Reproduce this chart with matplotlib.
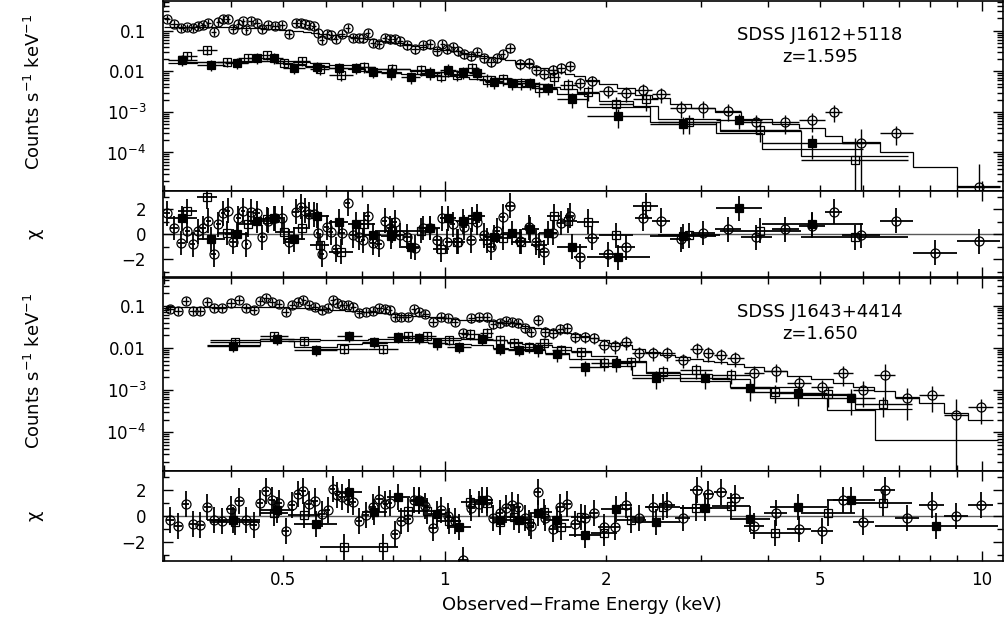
import numpy as np
import matplotlib.pyplot as plt
from matplotlib.ticker import FixedLocator, FixedFormatter, NullFormatter

plt.rcParams['font.family'] = ['DejaVu Sans']

# ---- SDSS J1612+5118 ----
# open circles (pn)
s1_pn_edges = [0.300, 0.308, 0.318, 0.328, 0.3355, 0.343, 0.3505, 0.3585, 0.367, 0.375, 0.3825,
               0.390, 0.3985, 0.408, 0.4165, 0.424, 0.4305, 0.440, 0.4525, 0.462, 0.4745, 0.491,
               0.5045, 0.520, 0.536, 0.5455, 0.5525, 0.5645, 0.5755, 0.584, 0.5965, 0.6095, 0.620,
               0.6335, 0.6515, 0.667, 0.6845, 0.6995, 0.7115, 0.725, 0.744, 0.765, 0.7815, 0.7985,
               0.816, 0.8375, 0.8645, 0.8945, 0.924, 0.952, 0.9785, 1.000, 1.022, 1.046, 1.070,
               1.099, 1.137, 1.164, 1.199, 1.239, 1.268, 1.296, 1.35, 1.412, 1.458, 1.502, 1.555,
               1.62, 1.677, 1.74, 1.825, 1.94, 2.09, 2.26, 2.43, 2.63, 2.88, 3.19, 3.56, 4.06, 4.57,
               5.1, 5.5, 6.45, 7.45, 9.0, 10.8]
s1_pn_rate = [0.198, 0.149, 0.119, 0.125, 0.119, 0.133, 0.14, 0.158, 0.0945, 0.167, 0.198, 0.198,
              0.112, 0.149, 0.17, 0.106, 0.177, 0.158, 0.112, 0.14, 0.133, 0.14, 0.0843, 0.158,
              0.158, 0.149, 0.141, 0.13, 0.09, 0.060, 0.0843, 0.08, 0.0634, 0.0843, 0.119, 0.0672,
              0.0672, 0.065, 0.0893, 0.0506, 0.0478, 0.0672, 0.062, 0.0634, 0.055, 0.044, 0.0359,
              0.0451, 0.0478, 0.0321, 0.0478, 0.0359, 0.040, 0.0321,
              0.027, 0.0241, 0.0303, 0.0215, 0.0172, 0.0215, 0.027, 0.038, 0.0153, 0.0162, 0.0109,
              0.0087, 0.0109, 0.0122, 0.0137, 0.0052, 0.0058, 0.0033, 0.00295, 0.0035, 0.00278,
              0.00126, 0.00126, 0.00106, 5.7e-4, 5.7e-4, 6.4e-4, 1.0e-3, 1.72e-4, 3.0e-4, np.nan,
              1.4e-5]
s1_pn_err = [0.2, 0.2, 0.2, 0.2, 0.2, 0.2, 0.2, 0.2, 0.2, 0.2, 0.2, 0.2, 0.2, 0.2, 0.2, 0.2, 0.2, 0.2,
             0.22, 0.22, 0.22, 0.22, 0.22, 0.22, 0.22, 0.22, 0.22, 0.22, 0.22, 0.22, 0.22, 0.22,
             0.22, 0.22, 0.22, 0.22, 0.22, 0.22, 0.22, 0.22, 0.22, 0.25, 0.25, 0.25, 0.25, 0.25,
             0.25, 0.25, 0.25, 0.25, 0.25, 0.25, 0.25, 0.25,
             0.25, 0.25, 0.25, 0.25, 0.25, 0.25, 0.25, 0.25, 0.3, 0.3, 0.3, 0.3, 0.3, 0.3, 0.3,
             0.35, 0.35, 0.35, 0.4, 0.4, 0.4, 0.45, 0.45, 0.45, 0.5, 0.5, 0.5, 0.45, 1.2, 0.5,
             np.nan, 2.7]
s1_pn_model = [0.125, 0.125, 0.125, 0.125, 0.125, 0.125, 0.125, 0.124, 0.123, 0.122, 0.121, 0.12,
               0.12, 0.119, 0.118, 0.117, 0.116, 0.115, 0.114, 0.112, 0.110, 0.105, 0.103, 0.099,
               0.097, 0.095, 0.093, 0.090, 0.089, 0.085, 0.082, 0.080, 0.078, 0.075, 0.072, 0.070,
               0.067, 0.065, 0.063, 0.061, 0.057, 0.055, 0.053, 0.051, 0.049, 0.046, 0.043, 0.040,
               0.038, 0.036, 0.034, 0.033, 0.032, 0.031,
               0.029, 0.027, 0.025, 0.024, 0.022, 0.021, 0.020, 0.019, 0.016, 0.015, 0.013, 0.012,
               0.011, 0.0098, 0.0088, 0.0075, 0.0062, 0.0048, 0.0039, 0.0026, 0.0022, 0.00158,
               0.00125, 0.00100, 6.7e-4, 5.0e-4, 4.0e-4, 2.5e-4, 1.8e-4, 1.03e-4, 4.4e-5, 1.5e-5]
s1_pn_chi = [1.7, 0.5, -0.7, 0.3, -0.8, 0.25, 0.5, 1.1, -1.6, 0.8, 1.7, 1.9, -0.6, 1.3, 1.9, -0.8,
             1.8, 1.7, -0.25, 1.1, 1.3, 1.3, -0.6, 1.8, 2.2, 1.9, 1.6, 1.6, 0.1, -1.6, 0.55, 0.15,
             -1.2, 0.1, 2.5, -0.1, -0.25, -0.5, 1.45, -0.7, -0.8, 1.1, 0.5, 0.95, -0.1, -0.2, -1.1,
             0.5, 0.5, -0.5, 1.3, -0.6, 0.8, -0.6,
             0.56, -0.5, 0.97, -0.1, -1.05, 0.3, 1.4, 2.3, -0.55, 0.56, -0.65, -1.45, 0.1, 0.9,
             1.5, -1.8, -0.3, -1.6, -1.05, 1.3, 1.1, -0.4, 0.1, 0.4, -0.25, 0.4, 0.7, 1.8, -0.1,
             1.1, -1.5, -0.55]

# open squares (MOS1)
s1_m1_edges = [0.318, 0.345, 0.376, 0.412, 0.450, 0.482, 0.522, 0.562, 0.610, 0.674, 0.74, 0.86,
               0.95, 1.02, 1.09, 1.16, 1.24, 1.33, 1.45, 1.55, 1.64, 1.76, 1.94, 2.24, 2.50, 3.25,
               4.6, 7.3]
s1_m1_rate = [0.0241, 0.034, 0.0172, 0.0215, 0.0255, 0.0162, 0.0182, 0.0115, 0.0082, 0.0129, 0.0115,
              0.0109, 0.0077, 0.0082, 0.0122, 0.0062, 0.0065, 0.0052, 0.0039, 0.0073, 0.0046, 0.0031,
              0.00158, 0.0021, 5.7e-4, 3.6e-4, 6.5e-5]
s1_m1_err = [0.25, 0.25, 0.25, 0.25, 0.25, 0.25, 0.25, 0.3, 0.3, 0.3, 0.3, 0.3, 0.3, 0.3, 0.3, 0.35,
             0.35, 0.35, 0.4, 0.4, 0.4, 0.4, 0.5, 0.5, 0.5, 0.5, 2.5]
s1_m1_model = [0.0165, 0.0165, 0.017, 0.0175, 0.018, 0.0178, 0.0172, 0.016, 0.0145, 0.013, 0.0115,
               0.0102, 0.0095, 0.0088, 0.0082, 0.0075, 0.0068, 0.0058, 0.0049, 0.0042, 0.0036,
               0.0029, 0.0019, 0.0014, 6.5e-4, 3.3e-4, 8e-5]
s1_m1_chi = [1.85, 3.0, 0.1, 0.8, 1.2, 0.2, 0.5, -0.9, -1.4, 0.8, 0.3, 0.3, -1.2, -0.6, 1.2, -0.5,
             -0.3, -0.6, -0.9, 1.45, 1.1, 1.0, -0.1, 2.3, -0.1, 0.3, -0.25]

# filled squares (MOS2)
s1_m2_edges = [0.305, 0.345, 0.39, 0.43, 0.463, 0.50, 0.55, 0.61, 0.66, 0.71, 0.76, 0.83, 0.90,
               0.98, 1.05, 1.11, 1.19, 1.285, 1.39, 1.495, 1.62, 1.84, 2.41, 3.2, 3.9, 6.0]
s1_m2_rate = [0.0192, 0.0145, 0.0162, 0.0215, 0.0215, 0.0122, 0.0129, 0.0122, 0.012, 0.0097, 0.0092,
              0.0073, 0.0092, 0.0109, 0.0097, 0.0092, 0.0055, 0.0052, 0.0052, 0.0039, 0.0021, 8e-4,
              5.1e-4, 6.4e-4, 1.72e-4]
s1_m2_err = [0.3, 0.3, 0.3, 0.3, 0.3, 0.3, 0.3, 0.3, 0.3, 0.3, 0.35, 0.35, 0.35, 0.35, 0.35, 0.35,
             0.35, 0.35, 0.35, 0.35, 0.4, 0.5, 0.45, 0.4, 0.6]
s1_m2_model = [0.016, 0.0165, 0.017, 0.0175, 0.0175, 0.0155, 0.0135, 0.012, 0.0112, 0.0102, 0.0095,
               0.0088, 0.0082, 0.0077, 0.0072, 0.0066, 0.0058, 0.0050, 0.0043, 0.0036, 0.0028,
               0.0013, 5.5e-4, 3.0e-4, 1.2e-4]
s1_m2_chi = [1.3, -0.4, 0.0, 1.1, 1.3, -0.4, 1.5, 1.0, 0.8, -0.1, -0.15, -1.0, 0.5, 1.3, 1.05, 1.45,
             -0.25, 0.1, 0.4, 0.1, -1.0, -1.85, -0.15, 2.1, 0.8]

# ---- SDSS J1643+4414 ----
s2_pn_edges = [0.303, 0.3125, 0.324, 0.3345, 0.345, 0.3565, 0.3665, 0.378, 0.392, 0.4065, 0.4205,
               0.434, 0.4475, 0.459, 0.471, 0.4835, 0.497, 0.5135, 0.527, 0.539, 0.551, 0.5645,
               0.5815, 0.598, 0.612, 0.624, 0.636, 0.6515, 0.667, 0.683, 0.702, 0.723, 0.745,
               0.7665, 0.783, 0.7985, 0.8175, 0.8405, 0.8645, 0.885, 0.906, 0.934, 0.9685, 1.000,
               1.028, 1.058,
               1.103, 1.14, 1.177, 1.215, 1.247, 1.285, 1.319, 1.35, 1.388, 1.428, 1.468, 1.512,
               1.562, 1.616, 1.665, 1.716, 1.784, 1.858, 1.931, 2.02, 2.123, 2.23, 2.364, 2.515,
               2.683, 2.867, 3.024, 3.17, 3.36, 3.6, 3.93, 4.34, 4.81, 5.28, 5.75, 6.3, 6.9, 7.65,
               8.52, 9.42, 10.5]
s2_pn_rate = [0.0848, 0.076, 0.1315, 0.076, 0.076, 0.1245, 0.0896, 0.0896, 0.118, 0.139, 0.0896,
              0.0803, 0.1315, 0.155, 0.1245, 0.1116, 0.072, 0.1056, 0.1245, 0.139, 0.1056, 0.0947,
              0.0803, 0.0896, 0.139, 0.118, 0.1056, 0.1056, 0.0947, 0.0681, 0.072, 0.076, 0.0896,
              0.0848, 0.0803, 0.0547, 0.0547, 0.0547, 0.0848, 0.072, 0.0645, 0.0416, 0.0547,
              0.0518, 0.0416,
              0.0228, 0.0518, 0.0547, 0.0547, 0.0373, 0.0394, 0.0439, 0.042, 0.0394, 0.0299, 0.024,
              0.0464, 0.024, 0.0228, 0.0283, 0.0299, 0.0183, 0.0183, 0.0173, 0.0118, 0.0112, 0.0139,
              0.0076, 0.0076, 0.0076, 0.0052, 0.0095, 0.0076, 0.0068, 0.0058, 0.00254, 0.00283,
              0.00147, 0.00118, 0.00254, 0.0010, 0.00228, 6.5e-4, 7.6e-4, 2.5e-4, 3.9e-4]
s2_pn_err = [0.2, 0.2, 0.2, 0.2, 0.2, 0.2, 0.2, 0.2, 0.2, 0.2, 0.2, 0.2, 0.2, 0.2, 0.2, 0.2, 0.2, 0.2,
             0.2, 0.2, 0.2, 0.2, 0.2, 0.2, 0.2, 0.2, 0.2, 0.2, 0.2, 0.2, 0.22, 0.22, 0.22, 0.22,
             0.22, 0.22, 0.22, 0.22, 0.22, 0.22, 0.22, 0.22, 0.22, 0.22, 0.22,
             0.25, 0.25, 0.25, 0.25, 0.25, 0.25, 0.25, 0.25, 0.25, 0.25, 0.25, 0.3, 0.3, 0.3, 0.3,
             0.3, 0.3, 0.3, 0.3, 0.35, 0.35, 0.35, 0.35, 0.35, 0.35, 0.35, 0.4, 0.4, 0.4, 0.4,
             0.45, 0.45, 0.45, 0.45, 0.5, 0.6, 0.8, 0.7, 0.6, 1.5, 0.6]
s2_pn_model = [0.093, 0.094, 0.095, 0.095, 0.095, 0.096, 0.096, 0.096, 0.096, 0.096, 0.095, 0.095,
               0.095, 0.094, 0.094, 0.093, 0.092, 0.091, 0.090, 0.089, 0.088, 0.086, 0.084, 0.082,
               0.080, 0.079, 0.078, 0.077, 0.076, 0.074, 0.072, 0.070, 0.068, 0.066, 0.065, 0.064,
               0.062, 0.060, 0.058, 0.057, 0.056, 0.054, 0.052, 0.050, 0.049,
               0.047, 0.047, 0.046, 0.045, 0.043, 0.041, 0.040, 0.038, 0.036, 0.034, 0.032, 0.030,
               0.028, 0.026, 0.024, 0.023, 0.021, 0.019, 0.017, 0.015, 0.013, 0.0115, 0.0095,
               0.0080, 0.0068, 0.0060, 0.0054, 0.0050, 0.0046, 0.0041, 0.0035, 0.0028, 0.0022,
               0.0018, 0.0015, 0.0012, 0.00095, 0.00070, 0.00048, 0.00028, 0.00020]
s2_pn_chi = [-0.31, -0.78, 0.93, -0.62, -0.70, 0.70, -0.31, -0.39, 0.54, 1.16, -0.31, -0.70, 1.01,
             1.94, 1.24, 1.01, -1.16, 0.85, 1.71, 1.94, 0.93, 1.16, 0.16, 0.47, 2.09, 1.63, 1.47,
             1.24, 1.09, -0.39, 0.08, 0.70, 1.32, 0.93, 1.01, -1.40, -0.39, -0.23, 1.24, 1.24, 0.78,
             -0.93, 0.47, 0.0, -0.39,
             -3.41, 0.62, 0.93, 1.24, -0.16, 0.23, 0.62, 0.85, 0.70, -0.16, -0.78, 1.86, -0.16,
             -1.0, 0.70, 0.93, -0.62, -0.16, 0.23, -0.85, -0.85, 0.85, -0.16, 0.70, 0.85, -0.16,
             2.0, 1.7, 1.86, 1.4, -0.78, 0.23, -1.0, -1.16, 1.24, -0.47, 2.0, -0.16, 0.85, 0.0, 0.85]

s2_m1_edges = [0.365, 0.452, 0.51, 0.585, 0.719, 0.82, 0.89, 0.965, 1.07, 1.165, 1.23, 1.305, 1.39,
               1.475, 1.585, 1.715, 1.87, 2.09, 2.37, 2.74, 3.15, 3.7, 4.6, 5.8, 7.4]
s2_m1_rate = [0.0139, 0.0193, 0.0147, 0.0095, 0.0095, 0.0193, 0.0193, 0.0155, 0.0216, 0.0228, 0.0155,
              0.0131, 0.0106, 0.0131, 0.009, 0.008, 0.0044, 0.0046, 0.0027, 0.003, 0.00228, 8.95e-4,
              8.0e-4, 4.6e-4]
s2_m1_err = [0.25, 0.25, 0.25, 0.25, 0.25, 0.25, 0.25, 0.25, 0.3, 0.3, 0.3, 0.3, 0.3, 0.3, 0.3, 0.35,
             0.35, 0.35, 0.4, 0.4, 0.4, 0.45, 0.5, 0.5]
s2_m1_model = [0.0150, 0.0165, 0.0160, 0.0155, 0.0160, 0.0170, 0.0175, 0.0170, 0.0165, 0.0158,
               0.0150, 0.0135, 0.0125, 0.0115, 0.0105, 0.0085, 0.0065, 0.0050, 0.0026, 0.0024,
               0.0018, 0.0012, 7.5e-4, 3.5e-4]
s2_m1_chi = [-0.47, 0.23, 0.08, -2.4, -2.4, 0.39, 0.39, -0.39, 1.09, 1.0, -0.47, -0.08, -0.54, 0.3,
             -0.85, -0.08, -1.32, -0.3, 0.70, 0.62, 0.78, -1.32, 0.23, 1.0]

s2_m2_edges = [0.36, 0.452, 0.525, 0.63, 0.70, 0.78, 0.86, 0.93, 1.01, 1.12, 1.23, 1.31, 1.44, 1.54,
               1.70, 1.95, 2.23, 2.74, 3.39, 4.03, 5.15, 6.33, 10.7]
s2_m2_rate = [0.0112, 0.0164, 0.009, 0.0193, 0.0139, 0.0183, 0.0173, 0.0131, 0.0106, 0.0164, 0.0095,
              0.009, 0.0095, 0.0072, 0.00353, 0.0044, 0.00193, 0.00193, 0.00112, 8.5e-4, 6.5e-4,
              np.nan]
s2_m2_err = [0.3, 0.3, 0.3, 0.3, 0.3, 0.3, 0.3, 0.3, 0.3, 0.3, 0.3, 0.3, 0.35, 0.35, 0.4, 0.4, 0.45,
             0.45, 0.5, 0.5, 0.6, np.nan]
s2_m2_model = [0.0118, 0.0148, 0.0105, 0.0125, 0.013, 0.0135, 0.0135, 0.013, 0.0125, 0.012, 0.0102,
               0.0096, 0.009, 0.0076, 0.0055, 0.0038, 0.0023, 0.0016, 0.0012, 6.5e-4, 3.4e-4, 6.4e-5]
s2_m2_chi = [-0.31, 0.47, -0.62, 1.86, 0.31, 1.47, 1.16, 0.16, -0.85, 1.24, -0.31, -0.31, 0.23, -0.3,
             -1.47, 0.54, -0.47, 0.62, -0.23, 0.70, 1.24, -0.78]

names = ['SDSS J1612+5118\nz=1.595', 'SDSS J1643+4414\nz=1.650']

circle = dict(marker='o', ms=6.5, mfc='none', mec='k', mew=0.9)
opensq = dict(marker='s', ms=5.5, mfc='none', mec='k', mew=0.9)
fullsq = dict(marker='s', ms=6.2, mfc='k', mec='k', mew=0.9)


def draw(ax_s, ax_r, edges, rate, err, model, chi, mk):
    edges = np.array(edges)
    lo, hi = edges[:-1], edges[1:]
    mid = np.sqrt(lo * hi)
    xerr = [mid - lo, hi - mid]
    rate = np.array(rate, dtype=float)
    sig = rate * np.array(err, dtype=float)
    low = np.minimum(sig, rate * 0.9999)
    ax_s.stairs(model, edges, baseline=None, color='k', lw=0.9)
    ax_s.errorbar(mid, rate, xerr=xerr, yerr=[low, sig], fmt='none', ecolor='k', elinewidth=1.0)
    ax_s.plot(mid, rate, ls='none', **mk)
    ax_r.errorbar(mid, chi, xerr=xerr, yerr=1.0, fmt='none', ecolor='k', elinewidth=1.3)
    ax_r.plot(mid, chi, ls='none', **mk)


fig = plt.figure(figsize=(10.05, 6.23), dpi=100)
L, W = 0.162, 0.836
ax1 = fig.add_axes([L, 0.694, W, 0.305])
ax2 = fig.add_axes([L, 0.556, W, 0.138])
ax3 = fig.add_axes([L, 0.244, W, 0.310])
ax4 = fig.add_axes([L, 0.0995, W, 0.1445])

draw(ax1, ax2, s1_pn_edges, s1_pn_rate, s1_pn_err, s1_pn_model, s1_pn_chi, circle)
draw(ax1, ax2, s1_m1_edges, s1_m1_rate, s1_m1_err, s1_m1_model, s1_m1_chi, opensq)
draw(ax1, ax2, s1_m2_edges, s1_m2_rate, s1_m2_err, s1_m2_model, s1_m2_chi, fullsq)
draw(ax3, ax4, s2_pn_edges, s2_pn_rate, s2_pn_err, s2_pn_model, s2_pn_chi, circle)
draw(ax3, ax4, s2_m1_edges, s2_m1_rate, s2_m1_err, s2_m1_model, s2_m1_chi, opensq)
draw(ax3, ax4, s2_m2_edges, s2_m2_rate, s2_m2_err, s2_m2_model, s2_m2_chi, fullsq)

ax1.set_ylim(1.15e-5, 0.55)
ax3.set_ylim(1.2e-5, 0.46)
ax2.set_ylim(-3.4, 3.5)
ax4.set_ylim(-3.5, 3.5)

xminor = [0.3, 0.4, 0.5, 0.6, 0.7, 0.8, 0.9, 2, 3, 4, 5, 6, 7, 8, 9]
yminor = [m * 10.0 ** p for p in range(-5, 0) for m in range(2, 10)]

for ax in (ax1, ax2, ax3, ax4):
    ax.set_xscale('log')
    ax.set_xlim(0.2985, 10.95)
    ax.xaxis.set_major_locator(FixedLocator([1, 10]))
    ax.xaxis.set_minor_locator(FixedLocator(xminor))
    ax.tick_params(which='both', direction='in', top=True, right=True, width=1.0,
                   labelsize=12, pad=12)
    ax.tick_params(which='major', length=7)
    ax.tick_params(which='minor', length=4)
    ax.tick_params(axis='x', which='both', labelbottom=False)
    for s in ax.spines.values():
        s.set_linewidth(1.2)

for ax in (ax1, ax3):
    ax.set_yscale('log')
    ax.yaxis.set_major_locator(FixedLocator([1e-4, 1e-3, 1e-2, 1e-1]))
    ax.yaxis.set_major_formatter(FixedFormatter(['$10^{-4}$', '$10^{-3}$', '0.01', '0.1']))
    ax.yaxis.set_minor_locator(FixedLocator(yminor))
    ax.yaxis.set_minor_formatter(NullFormatter())
    ax.set_ylabel('Counts s$^{-1}$ keV$^{-1}$', fontsize=13)
    ax.yaxis.set_label_coords(-0.142, 0.52)

for ax in (ax2, ax4):
    ax.axhline(0, color='0.35', lw=1.0, zorder=0)
    ax.yaxis.set_major_locator(FixedLocator([-2, 0, 2]))
    ax.yaxis.set_minor_locator(FixedLocator([-3, -1, 1, 3]))
    ax.set_ylabel('χ', fontsize=13)
    ax.yaxis.set_label_coords(-0.142, 0.5)

ax4.tick_params(axis='x', which='both', labelbottom=True, pad=7)
ax4.xaxis.set_major_formatter(FixedFormatter(['1', '10']))
ax4.xaxis.set_minor_formatter(FixedFormatter(['', '', '0.5', '', '', '', '', '2', '', '', '5',
                                              '', '', '', '']))

ax1.text(0.782, 0.76, names[0], transform=ax1.transAxes, ha='center', va='center',
         fontsize=13, linespacing=1.3)
ax3.text(0.782, 0.765, names[1], transform=ax3.transAxes, ha='center', va='center',
         fontsize=13, linespacing=1.3)

fig.text(0.579, 0.029, 'Observed−Frame Energy (keV)', ha='center', va='center', fontsize=13)

fig.savefig('out.png', dpi=100)
